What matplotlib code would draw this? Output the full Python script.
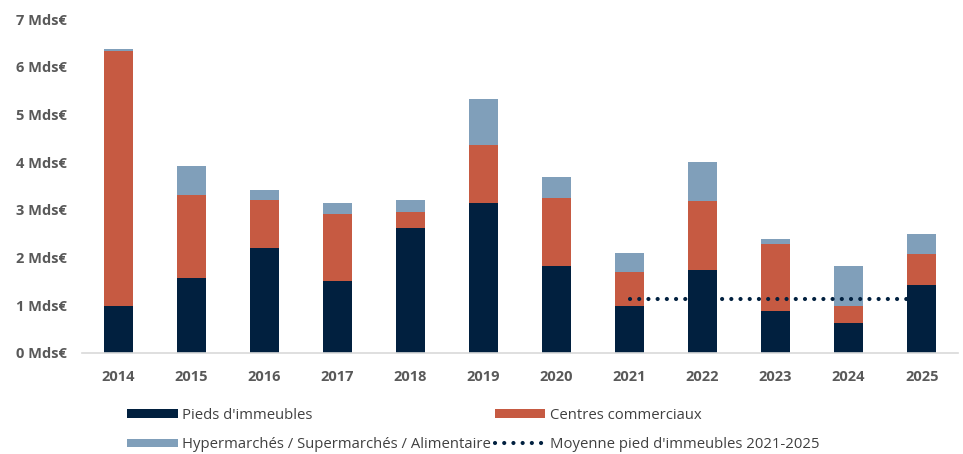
import matplotlib.pyplot as plt
import numpy as np

# données (Mds€)
annees = ['2014', '2015', '2016', '2017', '2018', '2019', '2020', '2021', '2022', '2023', '2024', '2025']
pieds = [0.98, 1.57, 2.20, 1.50, 2.62, 3.14, 1.82, 0.99, 1.73, 0.87, 0.62, 1.43]
centres = [5.35, 1.74, 1.00, 1.42, 0.33, 1.23, 1.42, 0.71, 1.45, 1.41, 0.37, 0.64]
hyper = [0.05, 0.62, 0.21, 0.22, 0.25, 0.95, 0.44, 0.40, 0.82, 0.11, 0.83, 0.42]
annees_moy = ['2021', '2022', '2023', '2024', '2025']
moyenne = [1.14, 1.14, 1.14, 1.14, 1.14]

c_pieds = '#01203F'
c_centres = '#C65A42'
c_hyper = '#809FBA'
gris = '#595959'

plt.rcParams['font.family'] = ['Open Sans', 'DejaVu Sans']

fig = plt.figure(figsize=(9.63, 4.54), dpi=100)
ax = fig.add_axes([0.085, 0.2225, 0.91, 0.7355])

x = np.arange(len(annees))
larg = 0.4
b1 = ax.bar(x, pieds, larg, color=c_pieds, label="Pieds d'immeubles")
bas = np.array(pieds)
b2 = ax.bar(x, centres, larg, bottom=bas, color=c_centres, label='Centres commerciaux')
bas = bas + np.array(centres)
b3 = ax.bar(x, hyper, larg, bottom=bas, color=c_hyper,
            label='Hypermarchés / Supermarchés / Alimentaire')

# ligne de moyenne en pointillés
xm = [annees.index(a) for a in annees_moy]
l1, = ax.plot(xm, moyenne, color=c_pieds, linewidth=3.0, linestyle=(0, (0.01, 2.2)),
              dash_capstyle='round', label="Moyenne pied d'immeubles 2021-2025")

ax.set_xlim(-0.5, len(annees) - 0.5)
ax.set_ylim(0, 7)
ax.set_xticks(x)
ax.set_xticklabels(annees)
ax.set_yticks(range(0, 8))
ax.set_yticklabels([f'{v} Mds€' for v in range(0, 8)])

for s in ['top', 'right', 'left']:
    ax.spines[s].set_visible(False)
ax.spines['bottom'].set_color('#D9D9D9')
ax.spines['bottom'].set_linewidth(1.2)
ax.tick_params(axis='both', length=0, colors=gris, labelsize=10.5)
ax.tick_params(axis='x', pad=12)
ax.tick_params(axis='y', pad=11)
for t in ax.get_xticklabels() + ax.get_yticklabels():
    t.set_fontweight('bold')

leg = fig.legend([b1, b3, b2, l1],
                 ["Pieds d'immeubles", 'Hypermarchés / Supermarchés / Alimentaire',
                  'Centres commerciaux', "Moyenne pied d'immeubles 2021-2025"],
                 ncol=2, loc='upper left', bbox_to_anchor=(0.132, 0.101),
                 frameon=False, fontsize=10.7, handlelength=3.4, handleheight=0.55,
                 handletextpad=0.3, columnspacing=0.25, labelspacing=0.95,
                 borderaxespad=0, borderpad=0, labelcolor='#404040')

fig.savefig('out.png', dpi=100)
